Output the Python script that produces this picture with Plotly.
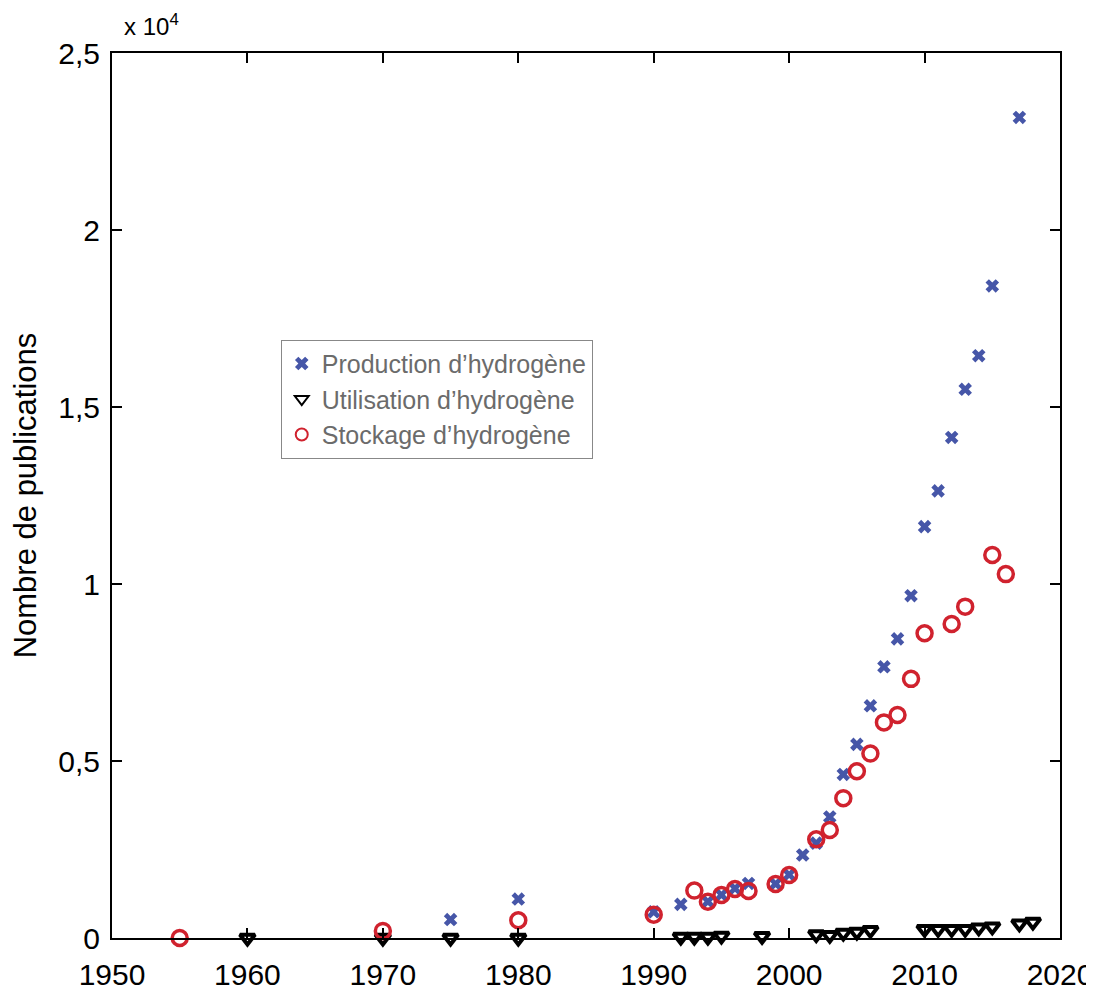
import plotly.graph_objects as go

prod_years = [1975, 1980, 1990, 1992, 1994, 1995, 1996, 1997, 1999, 2000, 2001, 2002, 2003,
              2004, 2005, 2006, 2007, 2008, 2009, 2010, 2011, 2012, 2013, 2014, 2015, 2017]
prod_vals = [520, 1100, 740, 950, 1030, 1220, 1400, 1540, 1530, 1790, 2345, 2680, 3420,
             4620, 5470, 6560, 7660, 8450, 9670, 11620, 12630, 14140, 15500, 16450, 18420, 23180]

util_years = [1960, 1970, 1975, 1980, 1992, 1993, 1994, 1995, 1998, 2002, 2003, 2004, 2005,
              2006, 2010, 2011, 2012, 2013, 2014, 2015, 2017, 2018]
util_vals = [0, 0, 0, 0, 30, 30, 30, 60, 50, 100, 80, 140, 170,
             220, 245, 245, 245, 250, 290, 320, 405, 450]

stock_years = [1955, 1970, 1980, 1990, 1993, 1994, 1995, 1996, 1997, 1999, 2000, 2002, 2003,
               2004, 2005, 2006, 2007, 2008, 2009, 2010, 2012, 2013, 2015, 2016]
stock_vals = [0, 200, 500, 660, 1340, 1025, 1215, 1384, 1330, 1525, 1780, 2790, 3050,
              3950, 4710, 5210, 6090, 6300, 7320, 8610, 8870, 9360, 10820, 10280]

y_ticks = [0, 5000, 10000, 15000, 20000, 25000]
y_labels = ["0", "0,5", "1", "1,5", "2", "2,5"]

FONT = "Liberation Sans, Arial, sans-serif"

fig = go.Figure()
fig.add_trace(go.Scatter(x=prod_years, y=prod_vals, mode="markers", name="Production d’hydrogène",
                         marker=dict(symbol="x", size=12, color="#4656a8", line=dict(width=0)),
                         cliponaxis=False))
fig.add_trace(go.Scatter(x=util_years, y=util_vals, mode="markers", name="Utilisation d’hydrogène",
                         marker=dict(symbol="triangle-down-open", size=13, color="black",
                                     line=dict(width=4, color="black")),
                         cliponaxis=False))
fig.add_trace(go.Scatter(x=stock_years, y=stock_vals, mode="markers", name="Stockage d’hydrogène",
                         marker=dict(symbol="circle-open", size=15, color="#d0222e",
                                     line=dict(width=3.5, color="#d0222e")),
                         cliponaxis=False))

axis_common = dict(showline=True, linecolor="black", linewidth=2, mirror="ticks",
                   ticks="inside", ticklen=10, tickwidth=2, tickcolor="black",
                   showgrid=False, zeroline=False, automargin=False,
                   tickfont=dict(family=FONT, size=30, color="black"))

fig.update_xaxes(range=[1950, 2020], dtick=10, tick0=1950, ticklabelstandoff=9, **axis_common)
fig.update_yaxes(range=[0, 25000], tickvals=y_ticks, ticktext=y_labels, ticklabelstandoff=4,
                 title=dict(text="Nombre de publications", font=dict(family=FONT, size=31, color="black"),
                            standoff=14),
                 **axis_common)

fig.add_annotation(text="x 10<sup>4</sup>", xref="paper", yref="paper", x=0.011, y=1,
                   xanchor="left", yanchor="bottom", yshift=11, showarrow=False,
                   font=dict(family=FONT, size=24, color="black"))

# the page body adds an 8px margin, so the figure is 8px smaller and shifted
fig.update_layout(
    width=1086, height=988,
    margin=dict(l=104, r=34, t=45, b=58),
    plot_bgcolor="white", paper_bgcolor="white",
    legend=dict(x=0.178, y=0.676, xanchor="left", yanchor="top",
                bordercolor="#888888", borderwidth=1, bgcolor="white",
                font=dict(family=FONT, size=25, color="#6b6b6b"),
                itemsizing="constant"),
    font=dict(family=FONT),
)

fig.write_html("out.html")
